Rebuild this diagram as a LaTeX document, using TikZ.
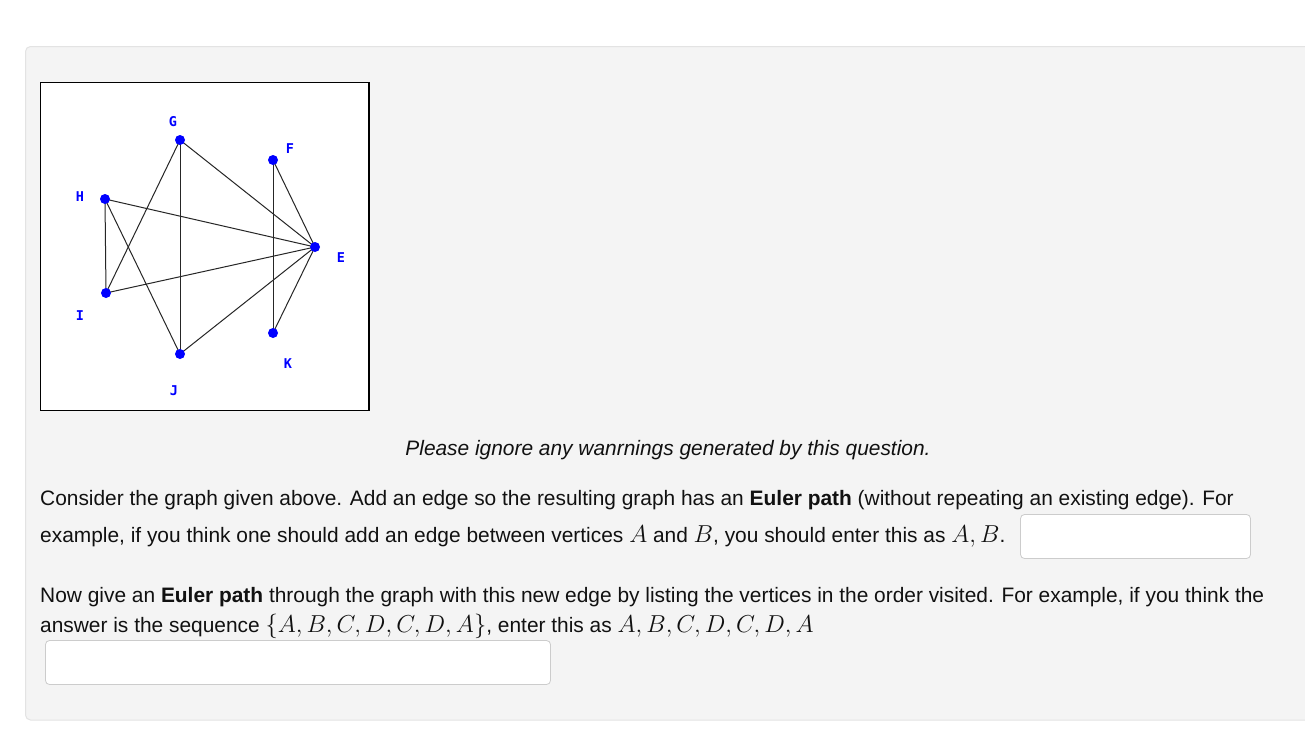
\RequirePackage{fix-cm}
\documentclass[tikz,border=0pt]{standalone}
\usepackage{fontspec}
\setmainfont{Liberation Sans}
\newfontfamily\labfont{DejaVu Sans Mono}
\definecolor{panelgray}{HTML}{F4F4F4}
\definecolor{panelborder}{HTML}{E3E3E3}
\definecolor{boxborder}{HTML}{CCCCCC}
\definecolor{vblue}{RGB}{0,0,255}
\definecolor{txt}{HTML}{111111}
\newcommand{\mth}[1]{{\fontsize{24.5}{24.5}\selectfont$#1$}}
\tikzset{
  vtx/.style={circle,fill=vblue,inner sep=0pt,minimum size=10pt},
  vlab/.style={text=vblue,font=\labfont\fontsize{13.5}{13.5}\selectfont\bfseries,inner sep=0pt},
  edge/.style={draw=black!85,line width=1pt},
  para/.style={text=txt,font=\fontsize{20.9}{20.9}\selectfont,inner sep=0pt,anchor=base west},
  inbox/.style={draw=boxborder,fill=white,rounded corners=4pt,line width=0.8pt},
}
\begin{document}
\begin{tikzpicture}[x=1pt,y=-1pt]
\path[use as bounding box,fill=white] (0,0) rectangle (1305,736);
\begin{scope}
\clip (0,0) rectangle (1305,736);
\draw[fill=panelgray,draw=panelborder,rounded corners=5pt,line width=1pt] (25.5,46.5) rectangle (1330,720);
\end{scope}
% graph frame
\draw[fill=white,draw=black,line width=1.3pt] (40.5,82.5) rectangle (369,410.5);
% vertices (coordinates of the dots)
\coordinate (G) at (180,140);
\coordinate (F) at (273,160);
\coordinate (H) at (105,199);
\coordinate (E) at (315,247);
\coordinate (I) at (106,293);
\coordinate (K) at (273,333);
\coordinate (J) at (180,354);
% edges
\draw[edge] (G) -- (J);
\draw[edge] (G) -- (I);
\draw[edge] (G) -- (E);
\draw[edge] (F) -- (K);
\draw[edge] (F) -- (E);
\draw[edge] (H) -- (I);
\draw[edge] (H) -- (J);
\draw[edge] (H) -- (E);
\draw[edge] (I) -- (E);
\draw[edge] (J) -- (E);
\draw[edge] (K) -- (E);
\foreach \v in {G,F,H,E,I,K,J} {\node[vtx] (d\v) at (\v) {};}
% labels
\node[vlab] (lG) at (173,122) {G};
\node[vlab] (lF) at (290,149) {F};
\node[vlab] (lH) at (80,197) {H};
\node[vlab] (lE) at (341,258) {E};
\node[vlab] (lI) at (80,316) {I};
\node[vlab] (lK) at (288,364) {K};
\node[vlab] (lJ) at (174,391) {J};
% texts
\node[para,anchor=base] (t0) at (668,455) {\itshape Please ignore any wanrnings generated by this question.};
\node[para] (t1) at (40,505) {Consider the graph given above. Add an edge so the resulting graph has an \textbf{Euler path} (without repeating an existing edge). For};
\node[para] (t2) at (40,542) {example, if you think one should add an edge between vertices \mth{A} and \mth{B}, you should enter this as \mth{A, B}.};
\node[para] (t3) at (40,602) {Now give an \textbf{Euler path} through the graph with this new edge by listing the vertices in the order visited. For example, if you think the};
\node[para] (t4) at (40,632) {answer is the sequence \mth{\{A, B, C, D, C, D, A\}}, enter this as \mth{A, B, C, D, C, D, A}};
% input boxes
\draw[inbox] (1020.5,514.5) rectangle (1250.5,558.5);
\draw[inbox] (45.5,640.5) rectangle (550.5,684.5);
\end{tikzpicture}
\end{document}
